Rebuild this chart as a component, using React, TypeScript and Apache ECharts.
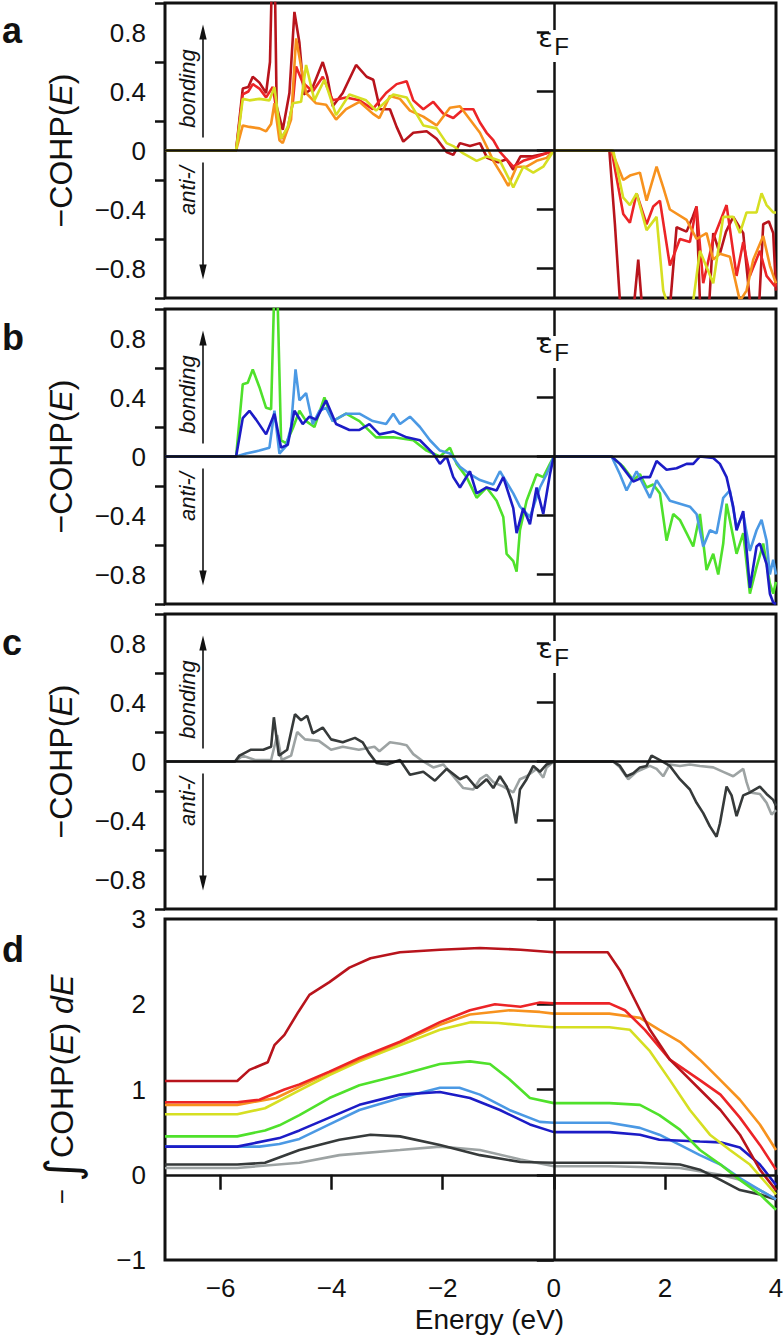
import React, { useEffect, useRef } from "react";
import * as echarts from "echarts";

type Pt = [number, number];

// ---------- axis ranges / ticks ----------
const energyMin = -7;
const energyMax = 4;
const energyTicks = [-6, -4, -2, 0, 2, 4];
const cohpTicks = [-0.8, -0.4, 0, 0.4, 0.8];
const cohpMinorTicks = [-1, -0.6, -0.2, 0.2, 0.6, 1];
const icohpTicks = [-1, 0, 1, 2, 3];

// ---------- panel a : -COHP(E) ----------
const aDarkRed: Pt[] = [
  [-7, 0], [-5.72, 0], [-5.6, 0.42], [-5.5, 0.43], [-5.42, 0.5], [-5.3, 0.46], [-5.18, 0.39], [-5.11, 0.6],
  [-5.08, 1.1], [-5.02, 1.1], [-4.99, 0.3], [-4.88, 0.14], [-4.76, 0.39], [-4.67, 0.94], [-4.58, 0.73],
  [-4.5, 0.38], [-4.35, 0.42], [-4.16, 0.6], [-4.08, 0.5], [-3.98, 0.3], [-3.8, 0.39], [-3.56, 0.58],
  [-3.37, 0.5], [-3.25, 0.48], [-3.13, 0.28], [-2.95, 0.28], [-2.83, 0.16], [-2.71, 0.06], [-2.53, 0.12],
  [-2.29, 0.13], [-2.11, 0.08], [-1.93, -0.01], [-1.81, -0.03], [-1.69, 0.05], [-1.51, 0.03], [-1.33, 0.05],
  [-1.2, -0.05], [-1.0, -0.08], [-0.85, -0.06], [-0.73, -0.13], [-0.6, -0.04], [-0.4, -0.04], [-0.15, -0.02],
  [0, 0], [1.0, 0], [1.1, -0.5], [1.19, -1.02], [1.45, -1.02], [1.52, -0.74], [1.58, -1.02], [2.1, -1.02],
  [2.21, -0.52], [2.39, -0.55], [2.5, -0.45], [2.57, -0.38], [2.63, -1.02], [2.8, -1.02], [2.87, -0.56],
  [2.99, -0.7], [3.1, -0.55], [3.23, -0.45], [3.41, -0.56], [3.53, -1.02], [3.7, -1.02], [3.77, -0.5],
  [3.87, -0.48], [3.95, -0.56], [4.0, -0.95],
];
const aRed: Pt[] = [
  [-7, 0], [-5.72, 0], [-5.6, 0.38], [-5.5, 0.4], [-5.42, 0.45], [-5.3, 0.42], [-5.18, 0.36], [-5.06, 0.43],
  [-4.91, 0.08], [-4.79, 0.15], [-4.7, 0.32], [-4.64, 0.57], [-4.52, 0.46], [-4.34, 0.4], [-4.16, 0.5],
  [-3.98, 0.34], [-3.74, 0.36], [-3.5, 0.34], [-3.26, 0.28], [-3.02, 0.39], [-2.83, 0.45], [-2.65, 0.47],
  [-2.53, 0.34], [-2.35, 0.28], [-2.17, 0.33], [-1.99, 0.25], [-1.81, 0.22], [-1.63, 0.28], [-1.45, 0.28],
  [-1.33, 0.19], [-1.21, 0.12], [-1.09, 0.07], [-0.97, -0.01], [-0.73, -0.11], [-0.55, -0.07], [-0.3, -0.04],
  [0, 0], [1.04, 0], [1.25, -0.43], [1.37, -0.49], [1.49, -0.29], [1.67, -0.5], [1.79, -0.38], [1.91, -0.34],
  [2.09, -0.78], [2.27, -0.6], [2.45, -0.62], [2.57, -0.38], [2.69, -0.9], [2.87, -0.6], [3.11, -0.37],
  [3.29, -0.85], [3.41, -0.62], [3.53, -0.85], [3.71, -0.68], [3.83, -0.85], [3.98, -0.92], [4.0, -0.9],
];
const aOrange: Pt[] = [
  [-7, 0], [-5.72, 0], [-5.6, 0.17], [-5.48, 0.16], [-5.3, 0.15], [-5.18, 0.13], [-5.09, 0.18], [-5.03, 0.32],
  [-4.94, 0.07], [-4.88, 0.05], [-4.73, 0.21], [-4.64, 0.76], [-4.55, 0.57], [-4.46, 0.39], [-4.28, 0.32],
  [-4.1, 0.31], [-3.92, 0.21], [-3.74, 0.28], [-3.5, 0.33], [-3.26, 0.25], [-3.14, 0.22], [-2.95, 0.37],
  [-2.77, 0.35], [-2.59, 0.27], [-2.35, 0.23], [-2.11, 0.17], [-1.87, 0.29], [-1.69, 0.3], [-1.51, 0.21],
  [-1.33, 0.12], [-1.2, 0.02], [-1.09, -0.07], [-0.91, -0.18], [-0.82, -0.24], [-0.67, -0.11], [-0.49, -0.11],
  [-0.31, -0.07], [-0.13, -0.05], [0, 0], [1.04, 0], [1.25, -0.2], [1.37, -0.17], [1.55, -0.15], [1.67, -0.34],
  [1.85, -0.11], [1.97, -0.25], [2.09, -0.4], [2.39, -0.47], [2.57, -0.6], [2.75, -0.56], [2.87, -0.74],
  [2.99, -0.7], [3.17, -0.72], [3.35, -1.02], [3.47, -0.95], [3.59, -0.74], [3.77, -0.58], [3.89, -0.78],
  [3.98, -0.88], [4.0, -0.9],
];
const aYellow: Pt[] = [
  [-7, 0], [-5.72, 0], [-5.6, 0.35], [-5.48, 0.34], [-5.3, 0.35], [-5.12, 0.34], [-5.03, 0.43], [-4.91, 0.08],
  [-4.79, 0.16], [-4.7, 0.32], [-4.55, 0.33], [-4.46, 0.58], [-4.31, 0.34], [-4.13, 0.48], [-3.92, 0.24],
  [-3.68, 0.38], [-3.38, 0.34], [-3.2, 0.27], [-2.89, 0.38], [-2.65, 0.36], [-2.35, 0.17], [-2.11, 0.15],
  [-1.93, 0.05], [-1.81, 0.03], [-1.63, -0.02], [-1.39, -0.07], [-1.2, -0.04], [-0.97, -0.07], [-0.73, -0.25],
  [-0.55, -0.11], [-0.37, -0.15], [-0.19, -0.11], [0, 0], [1.07, 0], [1.25, -0.32], [1.37, -0.37],
  [1.49, -0.29], [1.67, -0.54], [1.85, -0.45], [1.97, -0.95], [2.03, -1.02], [2.51, -1.02], [2.63, -0.68],
  [2.87, -0.9], [3.05, -0.45], [3.23, -0.45], [3.35, -0.56], [3.47, -0.42], [3.65, -0.42], [3.74, -0.29],
  [3.83, -0.37], [3.95, -0.42], [4.0, -0.42],
];

// ---------- panel b : -COHP(E) ----------
const bGreen: Pt[] = [
  [-7, 0], [-5.72, 0], [-5.6, 0.49], [-5.51, 0.5], [-5.42, 0.59], [-5.3, 0.47], [-5.18, 0.33], [-5.09, 0.32],
  [-5.04, 1.02], [-4.97, 1.02], [-4.91, 0.11], [-4.82, 0.09], [-4.7, 0.19], [-4.58, 0.31], [-4.46, 0.24],
  [-4.31, 0.2], [-4.13, 0.4], [-3.98, 0.24], [-3.74, 0.29], [-3.5, 0.24], [-3.2, 0.13], [-2.89, 0.13],
  [-2.53, 0.11], [-2.29, 0.04], [-2.05, 0], [-1.87, 0.06], [-1.75, -0.05], [-1.57, -0.14], [-1.39, -0.28],
  [-1.21, -0.21], [-1.03, -0.3], [-0.91, -0.41], [-0.85, -0.66], [-0.73, -0.71], [-0.67, -0.78], [-0.61, -0.5],
  [-0.49, -0.3], [-0.31, -0.12], [-0.19, -0.14], [-0.07, -0.05], [0, 0], [1.04, 0], [1.25, -0.07],
  [1.43, -0.16], [1.55, -0.12], [1.67, -0.21], [1.79, -0.19], [1.91, -0.25], [2.03, -0.57], [2.15, -0.39],
  [2.27, -0.43], [2.39, -0.52], [2.51, -0.61], [2.63, -0.39], [2.75, -0.77], [2.87, -0.66], [2.96, -0.8],
  [3.05, -0.59], [3.11, -0.32], [3.29, -0.66], [3.41, -0.52], [3.53, -0.93], [3.65, -0.75], [3.77, -0.59],
  [3.89, -0.86], [3.95, -0.93], [4.0, -0.85],
];
const bLightBlue: Pt[] = [
  [-7, 0], [-5.72, 0], [-5.54, 0.02], [-5.3, 0.04], [-5.12, 0.06], [-5.03, 0.31], [-4.94, 0.02], [-4.82, 0.07],
  [-4.73, 0.2], [-4.65, 0.59], [-4.58, 0.38], [-4.46, 0.43], [-4.34, 0.22], [-4.22, 0.31], [-4.1, 0.33],
  [-3.98, 0.24], [-3.74, 0.29], [-3.5, 0.29], [-3.26, 0.24], [-3.02, 0.22], [-2.89, 0.29], [-2.77, 0.22],
  [-2.59, 0.27], [-2.41, 0.2], [-2.23, 0.11], [-2.05, 0.04], [-1.87, 0.02], [-1.69, -0.07], [-1.51, -0.12],
  [-1.33, -0.16], [-1.09, -0.19], [-0.97, -0.1], [-0.73, -0.25], [-0.61, -0.34], [-0.43, -0.41],
  [-0.25, -0.21], [-0.13, -0.12], [0, 0], [1.04, 0], [1.19, -0.12], [1.31, -0.23], [1.49, -0.1], [1.61, -0.19],
  [1.73, -0.28], [1.85, -0.16], [1.97, -0.23], [2.09, -0.3], [2.27, -0.32], [2.45, -0.34], [2.57, -0.39],
  [2.69, -0.61], [2.81, -0.5], [2.93, -0.52], [3.05, -0.28], [3.17, -0.23], [3.29, -0.48], [3.41, -0.39],
  [3.53, -0.64], [3.65, -0.5], [3.74, -0.43], [3.83, -0.57], [3.89, -0.8], [3.95, -0.7], [4.0, -0.8],
];
const bDarkBlue: Pt[] = [
  [-7, 0], [-5.72, 0], [-5.6, 0.26], [-5.48, 0.31], [-5.36, 0.25], [-5.18, 0.15], [-5.03, 0.29], [-4.91, 0.06],
  [-4.79, 0.08], [-4.67, 0.31], [-4.52, 0.22], [-4.4, 0.27], [-4.28, 0.25], [-4.1, 0.38], [-3.92, 0.22],
  [-3.68, 0.18], [-3.5, 0.18], [-3.32, 0.22], [-3.14, 0.15], [-2.89, 0.17], [-2.65, 0.13], [-2.41, 0.11],
  [-2.17, 0.02], [-2.05, -0.05], [-1.93, 0], [-1.81, -0.14], [-1.69, -0.21], [-1.51, -0.1], [-1.39, -0.25],
  [-1.21, -0.21], [-1.03, -0.23], [-0.91, -0.14], [-0.73, -0.35], [-0.67, -0.52], [-0.55, -0.35],
  [-0.43, -0.46], [-0.31, -0.21], [-0.19, -0.39], [-0.07, -0.12], [0, 0], [1.04, 0], [1.19, -0.05],
  [1.43, -0.17], [1.61, -0.14], [1.73, -0.14], [1.85, -0.03], [2.03, -0.09], [2.21, -0.08], [2.39, -0.05],
  [2.51, -0.05], [2.63, 0], [2.87, -0.01], [2.99, -0.05], [3.11, -0.14], [3.23, -0.34], [3.29, -0.5],
  [3.41, -0.37], [3.53, -0.89], [3.65, -0.61], [3.71, -0.59], [3.83, -0.73], [3.89, -0.93], [3.95, -0.99],
  [4.0, -1.0],
];

// ---------- panel c : -COHP(E) ----------
const cLightGray: Pt[] = [
  [-7, 0], [-5.74, 0], [-5.6, 0.04], [-5.38, 0.01], [-5.09, 0.01], [-4.98, 0.18], [-4.9, 0.01], [-4.73, 0.04],
  [-4.62, 0.2], [-4.48, 0.15], [-4.23, 0.14], [-4.01, 0.08], [-3.8, 0.1], [-3.51, 0.08], [-3.23, 0.1],
  [-3.14, 0.07], [-2.95, 0.13], [-2.77, 0.12], [-2.65, 0.11], [-2.53, 0.05], [-2.35, 0], [-2.17, -0.04],
  [-1.99, -0.02], [-1.81, -0.1], [-1.63, -0.18], [-1.45, -0.19], [-1.33, -0.12], [-1.21, -0.09],
  [-1.09, -0.14], [-0.91, -0.17], [-0.73, -0.21], [-0.61, -0.12], [-0.49, -0.1], [-0.31, -0.05],
  [-0.19, -0.11], [-0.13, -0.04], [0, 0], [1.07, 0], [1.19, -0.04], [1.34, -0.12], [1.49, -0.07],
  [1.61, -0.05], [1.73, -0.03], [1.85, -0.05], [1.97, -0.1], [2.09, -0.02], [2.27, -0.03], [2.45, -0.02],
  [2.63, -0.03], [2.87, -0.04], [3.05, -0.07], [3.23, -0.1], [3.41, -0.05], [3.47, -0.14], [3.53, -0.21],
  [3.71, -0.22], [3.83, -0.28], [3.92, -0.36], [4.0, -0.33],
];
const cDarkGray: Pt[] = [
  [-7, 0], [-5.74, 0], [-5.66, 0.04], [-5.45, 0.08], [-5.23, 0.08], [-5.09, 0.1], [-5.04, 0.3], [-4.95, 0.04],
  [-4.8, 0.08], [-4.66, 0.32], [-4.55, 0.28], [-4.44, 0.31], [-4.34, 0.19], [-4.16, 0.23], [-4.01, 0.15],
  [-3.8, 0.13], [-3.58, 0.16], [-3.44, 0.13], [-3.33, 0.06], [-3.19, -0.01], [-3.0, -0.02], [-2.77, 0.01],
  [-2.59, -0.09], [-2.35, -0.07], [-2.14, -0.13], [-1.93, -0.05], [-1.69, -0.12], [-1.57, -0.1],
  [-1.39, -0.18], [-1.21, -0.12], [-1.09, -0.18], [-0.97, -0.1], [-0.85, -0.17], [-0.76, -0.26],
  [-0.68, -0.42], [-0.61, -0.19], [-0.49, -0.12], [-0.37, -0.03], [-0.25, -0.07], [-0.13, -0.02], [0, 0],
  [1.07, 0], [1.19, -0.03], [1.31, -0.1], [1.43, -0.08], [1.55, -0.04], [1.67, -0.03], [1.76, 0.04],
  [1.91, 0.01], [2.09, -0.03], [2.27, -0.12], [2.45, -0.19], [2.57, -0.28], [2.69, -0.35], [2.81, -0.44],
  [2.93, -0.51], [2.99, -0.42], [3.11, -0.17], [3.2, -0.23], [3.29, -0.37], [3.41, -0.23], [3.53, -0.21],
  [3.71, -0.17], [3.83, -0.22], [3.95, -0.26], [4.0, -0.3],
];

// ---------- panel d : -∫COHP(E) dE ----------
const dDarkRed: Pt[] = [
  [-7, 1.1], [-5.7, 1.1], [-5.48, 1.23], [-5.15, 1.32], [-5.03, 1.52], [-4.85, 1.64], [-4.6, 1.91],
  [-4.4, 2.11], [-4.04, 2.26], [-3.68, 2.43], [-3.3, 2.54], [-2.77, 2.61], [-2.05, 2.64], [-1.33, 2.66],
  [-0.6, 2.64], [0, 2.61], [0.97, 2.61], [1.19, 2.4], [1.46, 2.05], [1.73, 1.7], [2.09, 1.35], [2.63, 1.0],
  [3.0, 0.76], [3.35, 0.47], [3.71, 0.06], [4.0, -0.18],
];
const dRed: Pt[] = [
  [-7, 0.85], [-5.7, 0.85], [-5.3, 0.88], [-4.85, 1.0], [-4.58, 1.06], [-4.04, 1.21], [-3.5, 1.37],
  [-2.77, 1.56], [-2.05, 1.79], [-1.51, 1.93], [-1.06, 2.0], [-0.6, 1.97], [-0.25, 2.02], [0, 2.01],
  [1.0, 2.01], [1.28, 1.93], [1.64, 1.7], [2.09, 1.35], [2.63, 1.11], [3.0, 0.94], [3.35, 0.67], [3.71, 0.35],
  [4.0, 0.06],
];
const dOrange: Pt[] = [
  [-7, 0.82], [-5.7, 0.82], [-5.0, 0.9], [-4.04, 1.2], [-2.77, 1.55], [-2.05, 1.76], [-1.51, 1.88],
  [-0.8, 1.93], [-0.25, 1.91], [0, 1.89], [1.0, 1.89], [1.55, 1.84], [1.9, 1.7], [2.27, 1.56], [2.63, 1.35],
  [3.0, 1.11], [3.35, 0.88], [3.71, 0.59], [4.0, 0.29],
];
const dYellow: Pt[] = [
  [-7, 0.71], [-5.7, 0.71], [-5.2, 0.78], [-4.58, 0.99], [-4.04, 1.17], [-3.5, 1.33], [-2.77, 1.52],
  [-2.05, 1.7], [-1.5, 1.79], [-1.0, 1.78], [-0.5, 1.75], [0, 1.73], [1.0, 1.73], [1.37, 1.7], [1.73, 1.45],
  [2.09, 1.11], [2.45, 0.76], [2.81, 0.47], [3.17, 0.29], [3.53, 0.12], [4.0, -0.23],
];
const dGreen: Pt[] = [
  [-7, 0.45], [-5.7, 0.45], [-5.2, 0.52], [-4.94, 0.58], [-4.58, 0.7], [-4.04, 0.9], [-3.5, 1.05], [-2.77, 1.17],
  [-2.05, 1.3], [-1.51, 1.33], [-1.15, 1.3], [-0.8, 1.12], [-0.43, 0.9], [0, 0.84], [1.0, 0.84], [1.55, 0.82],
  [1.9, 0.7], [2.27, 0.53], [2.63, 0.29], [3.0, 0.12], [3.35, -0.06], [3.71, -0.23], [4.0, -0.41],
];
const dLightBlue: Pt[] = [
  [-7, 0.33], [-5.7, 0.33], [-5.3, 0.33], [-4.94, 0.36], [-4.58, 0.42], [-4.04, 0.59], [-3.5, 0.76],
  [-2.77, 0.9], [-2.05, 1.02], [-1.7, 1.02], [-1.33, 0.94], [-0.8, 0.76], [-0.25, 0.62], [0, 0.61], [1.0, 0.61],
  [1.55, 0.55], [1.9, 0.47], [2.27, 0.35], [2.63, 0.23], [3.0, 0.12], [3.35, -0.04], [3.71, -0.18], [4.0, -0.29],
];
const dDarkBlue: Pt[] = [
  [-7, 0.33], [-5.7, 0.33], [-5.4, 0.37], [-4.94, 0.43], [-4.58, 0.52], [-4.04, 0.67], [-3.5, 0.82], [-2.77, 0.94],
  [-2.05, 0.97], [-1.51, 0.9], [-0.97, 0.76], [-0.43, 0.59], [0, 0.5], [1.0, 0.5], [1.55, 0.47], [1.9, 0.41],
  [2.63, 0.39], [3.0, 0.38], [3.35, 0.32], [3.71, 0.12], [4.0, -0.12],
];
const dDarkGray: Pt[] = [
  [-7, 0.12], [-5.7, 0.12], [-5.2, 0.14], [-4.58, 0.29], [-3.86, 0.41], [-3.3, 0.47], [-2.77, 0.45],
  [-2.05, 0.35], [-1.33, 0.23], [-0.6, 0.15], [0, 0.14], [1.0, 0.14], [1.55, 0.14], [2.27, 0.12], [2.63, 0.06],
  [3.0, -0.06], [3.35, -0.18], [3.71, -0.23], [4.0, -0.29],
];
const dLightGray: Pt[] = [
  [-7, 0.08], [-5.7, 0.08], [-4.58, 0.14], [-3.86, 0.23], [-2.77, 0.29], [-2.05, 0.33], [-1.33, 0.29],
  [-0.6, 0.18], [0, 0.1], [1.0, 0.1], [2.27, 0.08], [3.0, 0.0], [3.35, -0.06], [3.71, -0.18], [4.0, -0.29],
];

// ---------- styling ----------
const C = {
  darkRed: "#b8141c",
  red: "#ec2427",
  orange: "#f7921e",
  yellow: "#d6df22",
  green: "#4fe12b",
  lightBlue: "#4b99e4",
  darkBlue: "#1c1cc6",
  darkGray: "#363a3a",
  lightGray: "#9da3a3",
};
const INK = "#111111";
const FONT = "'Liberation Sans', Arial, Helvetica, sans-serif";
const TICK_FONT = 26;

const panels = [
  { top: 3, height: 295, letter: "a", series: [[aDarkRed, C.darkRed], [aRed, C.red], [aOrange, C.orange], [aYellow, C.yellow]] },
  { top: 309, height: 295, letter: "b", series: [[bGreen, C.green], [bLightBlue, C.lightBlue], [bDarkBlue, C.darkBlue]] },
  { top: 614, height: 295, letter: "c", series: [[cLightGray, C.lightGray], [cDarkGray, C.darkGray]] },
  {
    top: 919, height: 341, letter: "d",
    series: [
      [dLightGray, C.lightGray], [dDarkGray, C.darkGray], [dLightBlue, C.lightBlue], [dDarkBlue, C.darkBlue],
      [dGreen, C.green], [dYellow, C.yellow], [dOrange, C.orange], [dRed, C.red], [dDarkRed, C.darkRed],
    ],
  },
] as { top: number; height: number; letter: string; series: [Pt[], string][] }[];

const fmt = (v: number) => String(v).replace("-", "\u2212");

function buildOption() {
  const grid: any[] = [];
  const xAxis: any[] = [];
  const yAxis: any[] = [];
  const series: any[] = [];
  const graphic: any[] = [];

  panels.forEach((p, i) => {
    const isD = i === 3;
    grid.push({
      left: 165, right: 8, top: p.top, height: p.height,
      show: true, borderColor: INK, borderWidth: 3, backgroundColor: "transparent",
      containLabel: false, outerBoundsMode: "none",
    });
    xAxis.push({
      type: "value", gridIndex: i, min: energyMin, max: energyMax, show: isD,
      axisLine: { show: false },
      splitLine: { show: false },
      axisTick: { show: isD, customValues: energyTicks, length: 15, lineStyle: { color: INK, width: 2.5 } },
      axisLabel: {
        show: isD, customValues: energyTicks, formatter: fmt, margin: 15,
        fontSize: TICK_FONT, color: INK, fontFamily: FONT,
      },
      name: isD ? "Energy (eV)" : "",
      nameLocation: "middle", nameGap: 45,
      nameTextStyle: { fontSize: 28, color: INK, fontFamily: FONT, padding: [0, 0, 0, 38] },
    });
    const majorIdx = yAxis.length;
    if (!isD) {
      yAxis.push({
        type: "value", gridIndex: i, min: -1, max: 1, position: "left",
        axisLine: { show: false }, splitLine: { show: false },
        axisTick: { show: true, customValues: cohpTicks, length: 17, lineStyle: { color: INK, width: 2.5 } },
        axisLabel: { customValues: cohpTicks, formatter: fmt, margin: 19, fontSize: TICK_FONT, color: INK, fontFamily: FONT },
        name: "\u2212COHP({i|E})", nameLocation: "middle", nameRotate: 90, nameGap: 88,
        nameTextStyle: {
          fontSize: 32, color: INK, fontFamily: FONT,
          rich: { i: { fontSize: 32, color: INK, fontFamily: FONT, fontStyle: "italic" } },
        },
      });
      yAxis.push({
        type: "value", gridIndex: i, min: -1, max: 1, position: "left",
        axisLine: { show: false }, splitLine: { show: false },
        axisTick: { show: true, customValues: cohpMinorTicks, length: 10, lineStyle: { color: INK, width: 2.5 } },
        axisLabel: { show: false },
      });
    } else {
      const tok = { fontSize: 32, color: INK, fontFamily: FONT, lineHeight: 46, verticalAlign: "middle" };
      yAxis.push({
        type: "value", gridIndex: i, min: -1, max: 3, interval: 1, position: "left",
        axisLine: { show: false }, splitLine: { show: false },
        axisTick: { show: true, customValues: icohpTicks, length: 17, lineStyle: { color: INK, width: 2.5 } },
        axisLabel: { customValues: icohpTicks, formatter: fmt, margin: 19, fontSize: TICK_FONT, color: INK, fontFamily: FONT },
        name: "{m|\u2212 }{s|\u222B}{n|COHP(}{i|E}{n|) }{i|dE}",
        nameLocation: "middle", nameRotate: 90, nameGap: 80,
        nameTextStyle: {
          fontSize: 32, color: INK, fontFamily: FONT,
          rich: {
            m: { ...tok, fontSize: 26 },
            s: { ...tok, fontSize: 46, fontFamily: "'DejaVu Sans', " + FONT },
            n: { ...tok },
            i: { ...tok, fontStyle: "italic" },
          },
        },
      });
    }

    p.series.forEach(([data, color]) => {
      series.push({
        type: "line", xAxisIndex: i, yAxisIndex: majorIdx, data,
        showSymbol: false, symbol: "none", silent: true, z: 2,
        lineStyle: { color, width: 2.6 }, itemStyle: { color },
      });
    });
    // zero reference lines (E = 0 and value = 0)
    series.push({
      type: "line", xAxisIndex: i, yAxisIndex: majorIdx, data: [], silent: true, z: 5, symbol: "none",
      markLine: {
        silent: true, symbol: ["none", "none"], label: { show: false },
        lineStyle: { color: INK, width: 2.5, type: "solid" },
        emphasis: { disabled: true },
        data: [{ xAxis: 0 }, { yAxis: 0 }],
      },
    });

    // panel letter
    const letterBase = { a: 30.4, b: 337.4, c: 642.4, d: 949.4 } as any;
    graphic.push({
      type: "text", x: 2, y: letterBase[p.letter], z: 100,
      style: { text: p.letter, font: `bold 36px ${FONT}`, fill: INK, align: "left", verticalAlign: "middle" },
    });

    if (!isD) {
      const z0 = p.top + p.height / 2;
      graphic.push(
        {
          type: "text", x: 187, y: z0 - 62, rotation: Math.PI / 2, z: 100,
          style: { text: "bonding", font: `italic 22px ${FONT}`, fill: INK, align: "center", verticalAlign: "middle" },
        },
        {
          type: "text", x: 187, y: z0 + 40, rotation: Math.PI / 2, z: 100,
          style: { text: "anti-/", font: `italic 22px ${FONT}`, fill: INK, align: "center", verticalAlign: "middle" },
        },
        { type: "line", z: 100, shape: { x1: 203, y1: z0 - 13, x2: 203, y2: z0 - 113 }, style: { stroke: INK, lineWidth: 1.6 } },
        { type: "polygon", z: 100, shape: { points: [[203, z0 - 126], [199.3, z0 - 111], [206.7, z0 - 111]] }, style: { fill: INK } },
        { type: "line", z: 100, shape: { x1: 203, y1: z0 + 12, x2: 203, y2: z0 + 117 }, style: { stroke: INK, lineWidth: 1.6 } },
        { type: "polygon", z: 100, shape: { points: [[203, z0 + 129], [199.3, z0 + 114], [206.7, z0 + 114]] }, style: { fill: INK } },
        { type: "rect", z: 100, shape: { x: 549, y: p.top + 27, width: 10, height: 32 }, style: { fill: "#ffffff" } },
        {
          type: "text", x: 545.5, y: p.top + 34, z: 101,
          style: { text: "\u03B5", font: `27px 'DejaVu Sans', ${FONT}`, fill: INK, align: "center", verticalAlign: "middle" },
        },
        {
          type: "text", x: 561.5, y: p.top + 43.5, z: 101,
          style: { text: "F", font: `24px ${FONT}`, fill: INK, align: "center", verticalAlign: "middle" },
        },
      );
    }
  });

  return {
    animation: false,
    backgroundColor: "#ffffff",
    textStyle: { fontFamily: FONT },
    grid, xAxis, yAxis, series, graphic,
  };
}

export default function App() {
  const ref = useRef<HTMLDivElement>(null);
  useEffect(() => {
    document.body.style.margin = "0";
    if (!ref.current) return;
    const chart = echarts.init(ref.current, undefined, { renderer: "svg" });
    chart.setOption(buildOption() as any);
    return () => chart.dispose();
  }, []);
  return <div ref={ref} style={{ width: 784, height: 1336 }} />;
}
